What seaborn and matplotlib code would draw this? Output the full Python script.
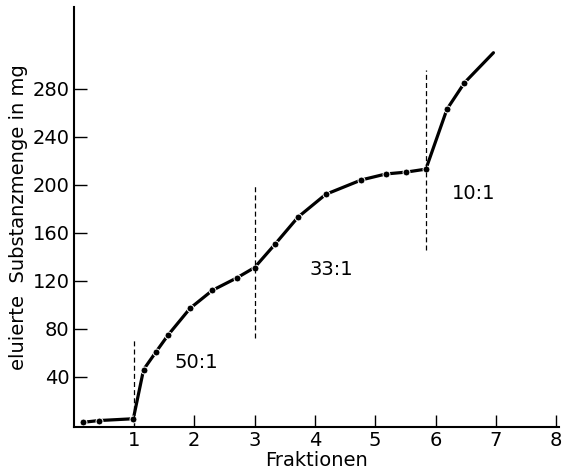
import numpy as np
import pandas as pd
import matplotlib
matplotlib.use("Agg")
import matplotlib.pyplot as plt
import seaborn as sns

# values
fraktion = [0.15, 0.42, 0.99, 1.16, 1.37, 1.57, 1.93, 2.30, 2.71, 3.00,
            3.34, 3.72, 4.18, 4.77, 5.18, 5.51, 5.84, 6.19, 6.48, 6.96]
menge = [2, 3.5, 5, 46, 61, 75, 97, 112, 122.5, 131,
         150.5, 173, 192, 204, 209, 210.5, 213, 263, 285, 310]

# solvent ratio borders (x, y from, y to) and labels
grenzen_x = [1.0, 3.0, 5.84]
grenzen_y0 = [5, 72, 146]
grenzen_y1 = [71, 200, 296]
verh_text = ["50:1", "33:1", "10:1"]
verh_x = [2.04, 4.28, 6.63]
verh_y = [52, 129, 193]

x_ticks = [1, 2, 3, 4, 5, 6, 7, 8]
y_ticks = [40, 80, 120, 160, 200, 240, 280]

df = pd.DataFrame({"Fraktionen": fraktion, "Menge": menge})

sns.set_style("ticks")
plt.rcParams['font.family'] = ['DejaVu Sans']
plt.rcParams['text.color'] = 'black'
plt.rcParams['axes.labelcolor'] = 'black'
plt.rcParams['xtick.color'] = 'black'
plt.rcParams['ytick.color'] = 'black'
plt.rcParams['axes.edgecolor'] = 'black'

fig = plt.figure(figsize=(5.62, 4.75), dpi=100)
ax = fig.add_axes([0.131, 0.102, 0.864, 0.883])

sns.lineplot(data=df, x="Fraktionen", y="Menge", ax=ax, color="black",
             linewidth=2.3, sort=False, estimator=None,
             marker="o", markersize=5, markeredgecolor="white",
             markeredgewidth=0.7, markevery=list(range(len(fraktion) - 1)))

for gx, g0, g1 in zip(grenzen_x, grenzen_y0, grenzen_y1):
    ax.plot([gx, gx], [g0, g1], color="black", linewidth=0.9,
            linestyle=(0, (4, 2.5)))

for t, tx, ty in zip(verh_text, verh_x, verh_y):
    ax.text(tx, ty, t, fontsize=14, ha="center", va="center")

ax.set_xlim(0, 8.05)
ax.set_ylim(-1.5, 348)
ax.set_xticks(x_ticks)
ax.set_yticks(y_ticks)
ax.tick_params(direction="in", length=9, width=1, labelsize=14, pad=3)
ax.set_xlabel("Fraktionen", fontsize=14, labelpad=1)
ax.set_ylabel("eluierte  Substanzmenge in mg", fontsize=14, labelpad=3)
sns.despine(ax=ax)
for s in ["left", "bottom"]:
    ax.spines[s].set_linewidth(1.5)

fig.savefig("out.png", dpi=100)
